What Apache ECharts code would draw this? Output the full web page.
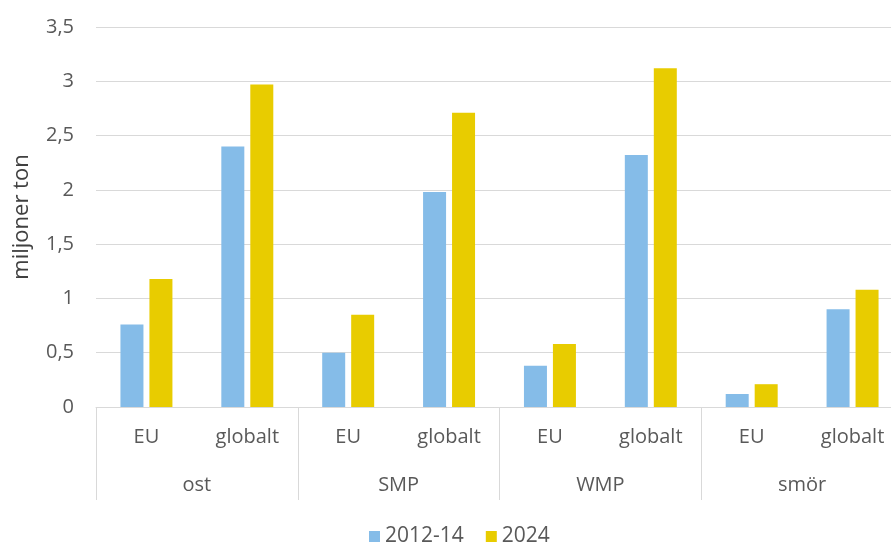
<!DOCTYPE html>
<html>
<head>
<meta charset="utf-8">
<script src="https://cdn.jsdelivr.net/npm/echarts@6/dist/echarts.min.js"></script>
<style>
  html, body { margin: 0; padding: 0; background: #fff; }
  #chart { width: 891px; height: 543px; }
</style>
</head>
<body>
<div id="chart"></div>
<script>
var subCategories = ['EU', 'globalt', 'EU', 'globalt', 'EU', 'globalt', 'EU', 'globalt'];
var groups = ['ost', 'SMP', 'WMP', 'smör'];
var series2012 = [0.76, 2.40, 0.50, 1.98, 0.38, 2.32, 0.12, 0.90];
var series2024 = [1.18, 2.97, 0.85, 2.71, 0.58, 3.12, 0.21, 1.08];

var chart = echarts.init(document.getElementById('chart'));
var font = '"Open Sans", sans-serif';
var textColor = '#595959';

var option = {
    animation: false,
    textStyle: { fontFamily: font },
    // plot runs past the right edge of the picture, as in the original crop
    grid: { left: 96, width: 807, top: 27, bottom: 136, containLabel: false, outerBoundsMode: 'none' },
    legend: {
        top: 521,
        left: 364,
        itemWidth: 11,
        itemHeight: 11,
        itemGap: 22,
        icon: 'rect',
        textStyle: { fontSize: 21, color: textColor, fontFamily: font },
        data: ['2012-14', '2024']
    },
    xAxis: [
        {
            type: 'category',
            data: subCategories,
            axisLine: { lineStyle: { color: '#d9d9d9' } },
            axisTick: { show: false },
            axisLabel: { fontSize: 20, color: textColor, margin: 20, interval: 0 }
        },
        {
            type: 'category',
            data: groups,
            position: 'bottom',
            axisLine: { show: false },
            axisTick: { show: true, length: 93, lineStyle: { color: '#d9d9d9' } },
            axisLabel: { fontSize: 20, color: textColor, margin: 68 }
        }
    ],
    yAxis: {
        type: 'value',
        min: 0,
        max: 3.5,
        interval: 0.5,
        name: 'miljoner ton',
        nameLocation: 'middle',
        nameGap: 63,
        nameTextStyle: { fontSize: 22, color: '#404040' },
        axisLine: { show: false },
        axisTick: { show: false },
        splitLine: { lineStyle: { color: '#d9d9d9' } },
        axisLabel: {
            fontSize: 20,
            color: textColor,
            margin: 22,
            formatter: function (v) { return String(v).replace('.', ','); }
        }
    },
    series: [
        {
            name: '2012-14',
            type: 'bar',
            xAxisIndex: 0,
            data: series2012,
            barWidth: 23,
            barGap: '26%',
            itemStyle: { color: '#85bce8' }
        },
        {
            name: '2024',
            type: 'bar',
            xAxisIndex: 0,
            data: series2024,
            barWidth: 23,
            itemStyle: { color: '#e8cc00' }
        }
    ]
};
chart.setOption(option);
</script>
</body>
</html>
